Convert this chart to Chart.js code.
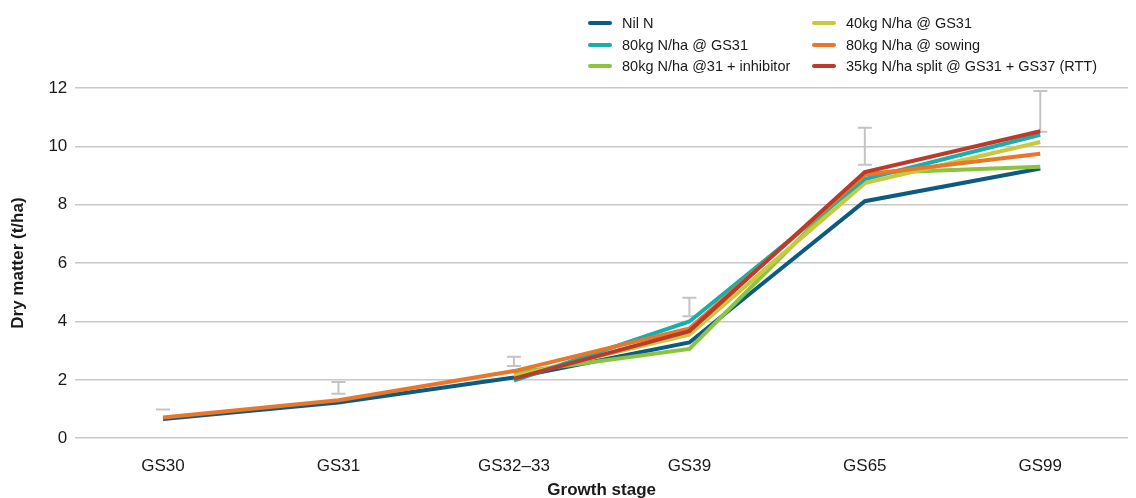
<!DOCTYPE html>
<html>
<head>
<meta charset="utf-8">
<script src="https://cdn.jsdelivr.net/npm/chart.js@4.4.1/dist/chart.umd.min.js"></script>
<style>
  html, body { margin: 0; padding: 0; background: #fff; }
  #wrap { position: relative; width: 1136px; height: 498px; }
  #legend { position: absolute; left: 588px; top: 12px; font-family: "Liberation Sans", Arial, sans-serif; font-size: 14.5px; color: #1a1a1a; }
  .item { position: absolute; white-space: nowrap; height: 22px; line-height: 22px; }
  .item span.sw { position: absolute; left: 0; top: 9px; width: 24px; height: 4px; border-radius: 2px; }
  .item span.tx { position: absolute; left: 34px; top: 0; }
</style>
</head>
<body>
<div id="wrap">
  <canvas id="chart" width="1136" height="498"></canvas>
  <div id="legend"></div>
</div>
<script>
// Categories and values
var stages = ['GS30', 'GS31', 'GS32\u201333', 'GS39', 'GS65', 'GS99'];

var nilN        = [0.66, 1.22, 2.08, 3.28, 8.12, 9.24];
var kg80GS31    = [null, null, 1.97, 4.00, 8.88, 10.40];
var kg80Inhib   = [null, null, 2.24, 3.06, 9.08, 9.30];
var kg40GS31    = [null, null, 2.12, 3.55, 8.74, 10.15];
var kg80Sowing  = [0.71, 1.30, 2.30, 3.76, 9.03, 9.75];
var kg35Split   = [null, null, 2.04, 3.67, 9.12, 10.52];

// error bar (lsd) per growth stage
var errLow  = [0.98, 1.52, 2.47, 4.18, 9.37, 10.50];
var errHigh = [0.98, 1.93, 2.79, 4.81, 10.64, 11.90];

var series = [
    { label: 'Nil N', data: nilN, color: '#0d5b83', order: 6 },
    { label: '40kg N/ha @ GS31', data: kg40GS31, color: '#c6ca3c', order: 4 },
    { label: '80kg N/ha @ GS31', data: kg80GS31, color: '#17afae', order: 3 },
    { label: '80kg N/ha @ sowing', data: kg80Sowing, color: '#e8772a', order: 2 },
    { label: '80kg N/ha @31 + inhibitor', data: kg80Inhib, color: '#8cc43f', order: 5 },
    { label: '35kg N/ha split @ GS31 + GS37 (RTT)', data: kg35Split, color: '#bb3a2b', order: 1 }
];

// Build the two-column legend (row-major, like the original)
var legend = document.getElementById('legend');
for (var i = 0; i < series.length; i++) {
    var col = i % 2;
    var row = Math.floor(i / 2);
    var div = document.createElement('div');
    div.className = 'item';
    div.style.left = (col * 224) + 'px';
    div.style.top = (row * 21.5) + 'px';
    div.innerHTML = `<span class="sw" style="background:${series[i].color}"></span><span class="tx">${series[i].label}</span>`;
    legend.appendChild(div);
}

// Draw the grey error bars through the chart scales
var errorBars = {
    id: 'errorBars',
    beforeDatasetsDraw: function(chart) {
        var ctx = chart.ctx;
        var x = chart.scales.x;
        var y = chart.scales.y;
        ctx.save();
        ctx.strokeStyle = '#c4c4c4';
        ctx.lineWidth = 2;
        for (var i = 0; i < stages.length; i++) {
            var px = x.getPixelForValue(i);
            var top = y.getPixelForValue(errHigh[i]);
            var bot = y.getPixelForValue(errLow[i]);
            ctx.beginPath();
            ctx.moveTo(px, top);
            ctx.lineTo(px, bot);
            ctx.moveTo(px - 7, top);
            ctx.lineTo(px + 7, top);
            ctx.moveTo(px - 7, bot);
            ctx.lineTo(px + 7, bot);
            ctx.stroke();
        }
        ctx.restore();
    }
};

var datasets = series.map(function(s) {
    return {
        label: s.label,
        data: s.data,
        borderColor: s.color,
        backgroundColor: s.color,
        borderWidth: 4,
        pointRadius: 0,
        tension: 0,
        order: s.order
    };
});

Chart.defaults.font.family = '"Liberation Sans", Arial, sans-serif';
Chart.defaults.color = '#1a1a1a';

var ctx = document.getElementById('chart').getContext('2d');
var mainChart = new Chart(ctx, {
    type: 'line',
    data: { labels: stages, datasets: datasets },
    options: {
        responsive: false,
        animation: false,
        layout: { padding: { top: 88, right: 8, bottom: -3, left: 8 } },
        plugins: {
            legend: { display: false },
            tooltip: { enabled: false }
        },
        scales: {
            x: {
                offset: true,
                grid: { display: false },
                border: { display: false },
                ticks: { font: { size: 17 }, padding: 10, color: '#1a1a1a' },
                title: { display: true, text: 'Growth stage', font: { size: 17, weight: 'bold' }, padding: { top: -6, bottom: 0 } }
            },
            y: {
                min: 0,
                max: 12,
                ticks: { stepSize: 2, font: { size: 17 }, padding: 8, color: '#1a1a1a' },
                grid: { color: '#c8c8c8', lineWidth: 1.5, drawTicks: false },
                border: { display: false },
                title: { display: true, text: 'Dry matter (t/ha)', font: { size: 17, weight: 'bold' }, padding: { top: 0, bottom: 12 } }
            }
        }
    },
    plugins: [errorBars]
});
</script>
</body>
</html>
